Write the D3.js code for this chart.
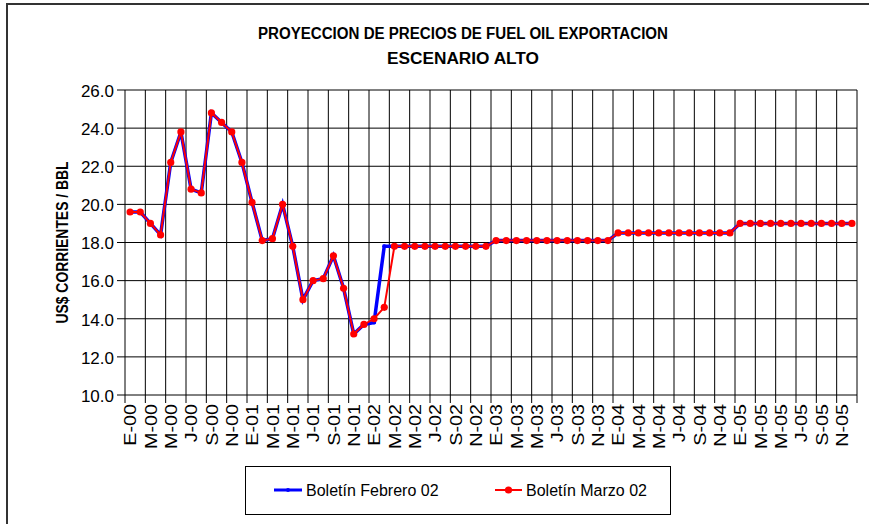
<!DOCTYPE html>
<html>
<head>
<meta charset="utf-8">
<script src="https://cdn.jsdelivr.net/npm/d3@7"></script>
<style>
  body { margin: 0; background: #fff; }
  text { font-family: "Liberation Sans", Arial, sans-serif; }
</style>
</head>
<body>
<div id="chart"></div>
<script>
// tick labels, one every two months (E-00 .. N-05)
var tickLabels = [
    "E-00","M-00","M-00","J-00","S-00","N-00",
    "E-01","M-01","M-01","J-01","S-01","N-01",
    "E-02","M-02","M-02","J-02","S-02","N-02",
    "E-03","M-03","M-03","J-03","S-03","N-03",
    "E-04","M-04","M-04","J-04","S-04","N-04",
    "E-05","M-05","M-05","J-05","S-05","N-05"
];

// monthly values, Jan-2000 .. Dec-2005
var febrero02 = [
    19.6, 19.6, 19.0, 18.4, 22.2, 23.8, 20.8, 20.6, 24.8, 24.3, 23.8, 22.2,
    20.1, 18.1, 18.2, 20.0, 17.8, 15.0, 16.0, 16.1, 17.3, 15.6, 13.2, 13.7,
    13.8, 17.8, 17.8, 17.8, 17.8, 17.8, 17.8, 17.8, 17.8, 17.8, 17.8, 17.8,
    18.1, 18.1, 18.1, 18.1, 18.1, 18.1, 18.1, 18.1, 18.1, 18.1, 18.1, 18.1,
    18.5, 18.5, 18.5, 18.5, 18.5, 18.5, 18.5, 18.5, 18.5, 18.5, 18.5, 18.5,
    19.0, 19.0, 19.0, 19.0, 19.0, 19.0, 19.0, 19.0, 19.0, 19.0, 19.0, 19.0
];
var marzo02 = [
    19.6, 19.6, 19.0, 18.4, 22.2, 23.8, 20.8, 20.6, 24.8, 24.3, 23.8, 22.2,
    20.1, 18.1, 18.2, 20.0, 17.8, 15.0, 16.0, 16.1, 17.3, 15.6, 13.2, 13.7,
    14.0, 14.6, 17.8, 17.8, 17.8, 17.8, 17.8, 17.8, 17.8, 17.8, 17.8, 17.8,
    18.1, 18.1, 18.1, 18.1, 18.1, 18.1, 18.1, 18.1, 18.1, 18.1, 18.1, 18.1,
    18.5, 18.5, 18.5, 18.5, 18.5, 18.5, 18.5, 18.5, 18.5, 18.5, 18.5, 18.5,
    19.0, 19.0, 19.0, 19.0, 19.0, 19.0, 19.0, 19.0, 19.0, 19.0, 19.0, 19.0
];
var yTicks = [10, 12, 14, 16, 18, 20, 22, 24, 26];

var width = 869, height = 524;
var margin = {top: 90, right: 12, bottom: 129, left: 125};

var svg = d3.select("#chart").append("svg")
    .attr("width", width)
    .attr("height", height);

// frame (only top and left edges visible)
svg.append("path")
    .attr("d", "M7,524V4H869")
    .attr("fill", "none")
    .attr("stroke", "#333")
    .attr("stroke-width", 2);

var x = d3.scaleBand()
    .domain(d3.range(marzo02.length))
    .range([margin.left, width - margin.right]);
var y = d3.scaleLinear()
    .domain([10, 26])
    .range([height - margin.bottom, margin.top]);

var cx = i => x(i) + x.bandwidth() / 2;

// horizontal grid
svg.append("g").selectAll("line")
    .data(yTicks)
    .enter().append("line")
    .attr("x1", margin.left - 8)
    .attr("x2", width - margin.right)
    .attr("y1", d => y(d))
    .attr("y2", d => y(d))
    .attr("stroke", "#000");

// vertical grid every two months
var vIdx = d3.range(0, marzo02.length + 1, 2);
svg.append("g").selectAll("line")
    .data(vIdx)
    .enter().append("line")
    .attr("x1", d => margin.left + d * x.step())
    .attr("x2", d => margin.left + d * x.step())
    .attr("y1", margin.top)
    .attr("y2", y(10) + 8)
    .attr("stroke", "#000");

// y tick labels
svg.append("g").selectAll("text")
    .data(yTicks)
    .enter().append("text")
    .attr("x", 114)
    .attr("y", d => y(d))
    .attr("dy", "0.4em")
    .attr("text-anchor", "end")
    .attr("font-size", 17)
    .text(d => d.toFixed(1));

// x tick labels (slightly stretched along the text, like the original)
svg.append("g").selectAll("text")
    .data(tickLabels)
    .enter().append("text")
    .attr("transform", (d, i) => "translate(" + cx(i * 2) + "," + (y(10) + 9) + ") rotate(-90) scale(1.16,1)")
    .attr("dy", "0.36em")
    .attr("text-anchor", "end")
    .attr("font-size", 17)
    .text(d => d);

// titles
svg.append("text")
    .attr("x", 463).attr("y", 39)
    .attr("text-anchor", "middle")
    .attr("font-weight", "bold")
    .attr("font-size", 16)
    .attr("textLength", 410)
    .attr("lengthAdjust", "spacingAndGlyphs")
    .text("PROYECCION DE PRECIOS DE FUEL OIL EXPORTACION");
svg.append("text")
    .attr("x", 463).attr("y", 64)
    .attr("text-anchor", "middle")
    .attr("font-weight", "bold")
    .attr("font-size", 16)
    .attr("textLength", 152)
    .attr("lengthAdjust", "spacingAndGlyphs")
    .text("ESCENARIO ALTO");
svg.append("text")
    .attr("transform", "translate(68," + ((margin.top + y(10)) / 2) + ") rotate(-90)")
    .attr("text-anchor", "middle")
    .attr("font-weight", "bold")
    .attr("font-size", 17)
    .attr("textLength", 162)
    .attr("lengthAdjust", "spacingAndGlyphs")
    .text("US$ CORRIENTES / BBL");

var line = d3.line()
    .x((d, i) => cx(i))
    .y(d => y(d));

svg.append("path")
    .datum(febrero02)
    .attr("d", line)
    .attr("fill", "none")
    .attr("stroke", "#0000ff")
    .attr("stroke-width", 3.5);
svg.append("g").selectAll("circle")
    .data(febrero02)
    .enter().append("circle")
    .attr("cx", (d, i) => cx(i))
    .attr("cy", d => y(d))
    .attr("r", 2)
    .attr("fill", "#0000ff");

svg.append("path")
    .datum(marzo02)
    .attr("d", line)
    .attr("fill", "none")
    .attr("stroke", "#ff0000")
    .attr("stroke-width", 2);
svg.append("g").selectAll("circle")
    .data(marzo02)
    .enter().append("circle")
    .attr("cx", (d, i) => cx(i))
    .attr("cy", d => y(d))
    .attr("r", 3.6)
    .attr("fill", "#ff0000");

// legend
var legend = svg.append("g");
legend.append("rect")
    .attr("x", 245.5).attr("y", 466.5)
    .attr("width", 425).attr("height", 48)
    .attr("fill", "#fff")
    .attr("stroke", "#000");
legend.append("line")
    .attr("x1", 274).attr("x2", 302)
    .attr("y1", 490).attr("y2", 490)
    .attr("stroke", "#0000ff").attr("stroke-width", 3);
legend.append("circle")
    .attr("cx", 288).attr("cy", 490).attr("r", 2)
    .attr("fill", "#0000ff");
legend.append("text")
    .attr("x", 306).attr("y", 496)
    .attr("font-size", 16)
    .text("Boletín Febrero 02");
legend.append("line")
    .attr("x1", 495).attr("x2", 522)
    .attr("y1", 490).attr("y2", 490)
    .attr("stroke", "#ff0000").attr("stroke-width", 2);
legend.append("circle")
    .attr("cx", 508.5).attr("cy", 490).attr("r", 3.6)
    .attr("fill", "#ff0000");
legend.append("text")
    .attr("x", 526).attr("y", 496)
    .attr("font-size", 16)
    .text("Boletín Marzo 02");
</script>
</body>
</html>
